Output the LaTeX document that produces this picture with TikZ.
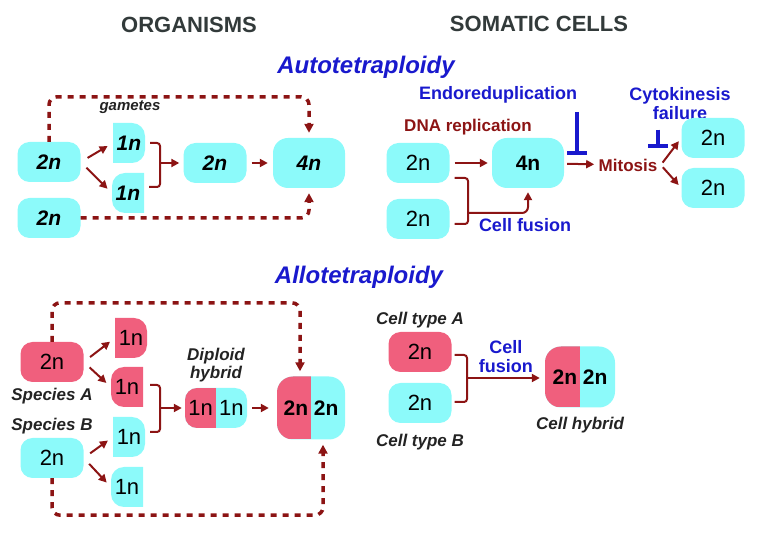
\documentclass[tikz,border=0pt]{standalone}
\usepackage{fontspec}
\setmainfont{Liberation Sans}
\usetikzlibrary{arrows.meta,positioning}
\definecolor{cellcyan}{RGB}{140,250,250}
\definecolor{cellpink}{RGB}{240,95,125}
\definecolor{darkred}{RGB}{140,20,20}
\definecolor{textblue}{RGB}{25,25,205}
\definecolor{headgray}{RGB}{50,58,58}
\definecolor{labelgray}{RGB}{35,35,35}

\begin{document}
\begin{tikzpicture}[x=1pt, y=-1pt,
	cell/.style={fill=#1, rounded corners=12pt, minimum width=63pt, minimum height=40pt, inner sep=0pt, font=\fontsize{22}{24}\selectfont},
	cell/.default=cellcyan,
	bigcell/.style={minimum width=72pt, minimum height=50pt, rounded corners=15pt},
	orgfont/.style={font=\fontsize{21}{24}\selectfont\bfseries\itshape},
	boldfont/.style={font=\fontsize{21}{24}\selectfont\bfseries},
	gamR/.style={fill=white, minimum width=32pt, minimum height=40pt, inner sep=0pt, font=\fontsize{22}{24}\selectfont,
		path picture={\fill[#1, rounded corners=13pt] ([xshift=-20pt]path picture bounding box.south west) rectangle (path picture bounding box.north east);}},
	gamL/.style={fill=white, minimum width=32pt, minimum height=40pt, inner sep=0pt, font=\fontsize{22}{24}\selectfont,
		path picture={\fill[#1, rounded corners=13pt] (path picture bounding box.south west) rectangle ([xshift=20pt]path picture bounding box.north east);}},
	halves/.style={path picture={\fill[cellpink, sharp corners] (path picture bounding box.south west) rectangle (path picture bounding box.north);}},
	colhead/.style={font=\fontsize{22}{26}\selectfont\bfseries, text=headgray},
	headtitle/.style={font=\fontsize{24}{28}\selectfont\bfseries\itshape, text=textblue},
	bluetxt/.style={font=\fontsize{18}{19}\selectfont\bfseries, text=textblue, align=center},
	redtxt/.style={font=\fontsize{17}{19}\selectfont\bfseries, text=darkred},
	note/.style={font=\fontsize{17}{18}\selectfont\bfseries\itshape, text=labelgray, align=center},
	arr/.style={darkred, line width=2pt, -{Triangle[length=8pt, width=8pt]}, shorten <=8pt, shorten >=6pt},
	brk/.style={darkred, line width=2pt, rounded corners=3pt},
	dasharr/.style={darkred, line width=3.5pt, dash pattern=on 6pt off 6pt, rounded corners=8pt, -{Triangle[length=9pt, width=9pt]}, shorten >=5pt},
	inhib/.style={textblue, line width=4pt, -{Bar[width=20pt]}}]

	\useasboundingbox (0,0) rectangle (761,534);

	% headings
	\node[colhead] (orgH) at (189,25) {ORGANISMS};
	\node[colhead] (somH) at (539,24) {SOMATIC CELLS};
	\node[headtitle] (autoH) at (366,67) {Autotetraploidy};
	\node[headtitle] (alloH) at (359,277) {Allotetraploidy};

	% autotetraploidy, organisms
	\node[cell, orgfont] (o2nA) at (49,162) {2n};
	\node[cell, orgfont] (o2nB) at (49,218) {2n};
	\node[gamR=cellcyan, orgfont] (og1) at (129,143) {1n};
	\node[gamL=cellcyan, orgfont] (og2) at (128,193) {1n};
	\node[note, font=\fontsize{15}{17}\selectfont\bfseries\itshape] (gam) at (130,107) {gametes};
	\node[cell, orgfont] (o2nC) at (215,163) {2n};
	\node[cell, bigcell, orgfont] (o4n) at (309,163) {4n};
	\coordinate (obrk) at (160,163);

	\draw[arr] (o2nA.east) -- (og1.west);
	\draw[arr] (o2nA.east) -- (og2.west);
	\draw[brk] ([xshift=5pt]og1.east) -| (obrk) |- ([xshift=5pt,yshift=6pt]og2.east);
	\draw[arr, shorten <=0pt, shorten >=4pt] (obrk) -- (o2nC.west);
	\draw[arr, shorten <=5pt, shorten >=5pt] (o2nC) -- (o4n);
	\draw[dasharr] (o2nA.north) -- ++(0,-45) -| (o4n.north);
	\draw[dasharr] (o2nB.east) -| (o4n.south);

	% autotetraploidy, somatic cells
	\node[cell] (s2nA) at (418,163) {2n};
	\node[cell] (s2nB) at (418,219) {2n};
	\node[cell, bigcell, boldfont] (s4n) at (528,163) {4n};
	\node[redtxt] (dna) at (468,127) {DNA replication};
	\node[bluetxt] (endo) at (498,95) {Endoreduplication};
	\node[redtxt] (mit) at (628,165) {Mitosis};
	\node[bluetxt] (cyto) at (680,104) {Cytokinesis\\failure};
	\node[cell] (s2nC) at (713,138) {2n};
	\node[cell] (s2nD) at (713,188) {2n};
	\node[bluetxt] (sfus) at (525,225) {Cell fusion};
	\coordinate (sbrk) at (468,213);
	\coordinate (endoT) at (577,155);
	\coordinate (cytoT) at (658,148);

	\draw[arr, shorten <=5pt, shorten >=4pt] (s2nA) -- (s4n);
	\draw[brk] ([xshift=5pt,yshift=-15pt]s2nA.east) -| (sbrk) |- ([xshift=5pt,yshift=-5pt]s2nB.east);
	\draw[arr, shorten <=0pt, shorten >=4pt, rounded corners=6pt] (sbrk) -| (s4n.south);
	\draw[arr, shorten <=3pt, shorten >=1pt] (s4n) -- (mit);
	\draw[inhib] (endoT |- endo.south) ++(0,5) -- (endoT);
	\draw[inhib] (cytoT |- cyto.south) ++(0,6) -- (cytoT);
	\draw[arr, shorten <=3pt, shorten >=4pt] (mit.east) -- (s2nC.west);
	\draw[arr, shorten <=3pt, shorten >=4pt] (mit.east) -- (s2nD.west);

	% allotetraploidy, organisms
	\node[cell=cellpink, label={[note, yshift=-2pt]below:Species A}] (pA) at (52,362) {2n};
	\node[cell, label={[note]above:Species B}] (pB) at (52,458) {2n};
	\node[gamR=cellpink] (p1) at (131,338) {1n};
	\node[gamL=cellpink] (p2) at (127,387) {1n};
	\node[gamR=cellcyan] (c3) at (129,437) {1n};
	\node[gamL=cellcyan] (c4) at (127,487) {1n};
	\node[cell, halves, minimum width=62pt] (dh) at (216,408) {1n 1n};
	\node[note, above=2pt of dh] (dhl) {Diploid\\hybrid};
	\node[cell, halves, minimum width=68pt, minimum height=63pt, rounded corners=16pt, boldfont] (tet) at (311,408) {2n 2n};
	\coordinate (abrk) at (160,408);

	\draw[arr] (pA.east) -- (p1.west);
	\draw[arr] (pA.east) -- (p2.west);
	\draw[arr] (pB.east) -- (c3.west);
	\draw[arr] (pB.east) -- (c4.west);
	\draw[brk] ([xshift=7pt,yshift=2pt]p2.east) -| (abrk) |- ([xshift=5pt,yshift=5pt]c3.east);
	\draw[arr, shorten <=0pt, shorten >=3pt] (abrk) -- (dh.west);
	\draw[arr, shorten <=5pt, shorten >=8pt] (dh) -- (tet);
	\draw[dasharr] (pA.north) -- ++(0,-39) -| ([xshift=-11pt]tet.north);
	\draw[dasharr] (pB.south) -- ++(0,37) -| ([xshift=12pt]tet.south);

	% allotetraploidy, somatic cells
	\node[cell=cellpink, label={[note]above:Cell type A}] (cA) at (420,352) {2n};
	\node[cell, label={[note, yshift=-7pt]below:Cell type B}] (cB) at (420,403) {2n};
	\node[cell, halves, minimum width=70pt, minimum height=61pt, rounded corners=16pt, boldfont,
		label={[note, yshift=-6pt]below:Cell hybrid}] (ch) at (580,377) {2n 2n};
	\coordinate (cbrk) at (467,378);

	\draw[brk] ([xshift=3pt,yshift=-3pt]cA.east) -| (cbrk) |- ([xshift=3pt,yshift=1pt]cB.east);
	\draw[arr, shorten <=0pt, shorten >=5pt] (cbrk) -- node[bluetxt, above=1pt] {Cell\\fusion} (cbrk -| ch.west);
\end{tikzpicture}
\end{document}
